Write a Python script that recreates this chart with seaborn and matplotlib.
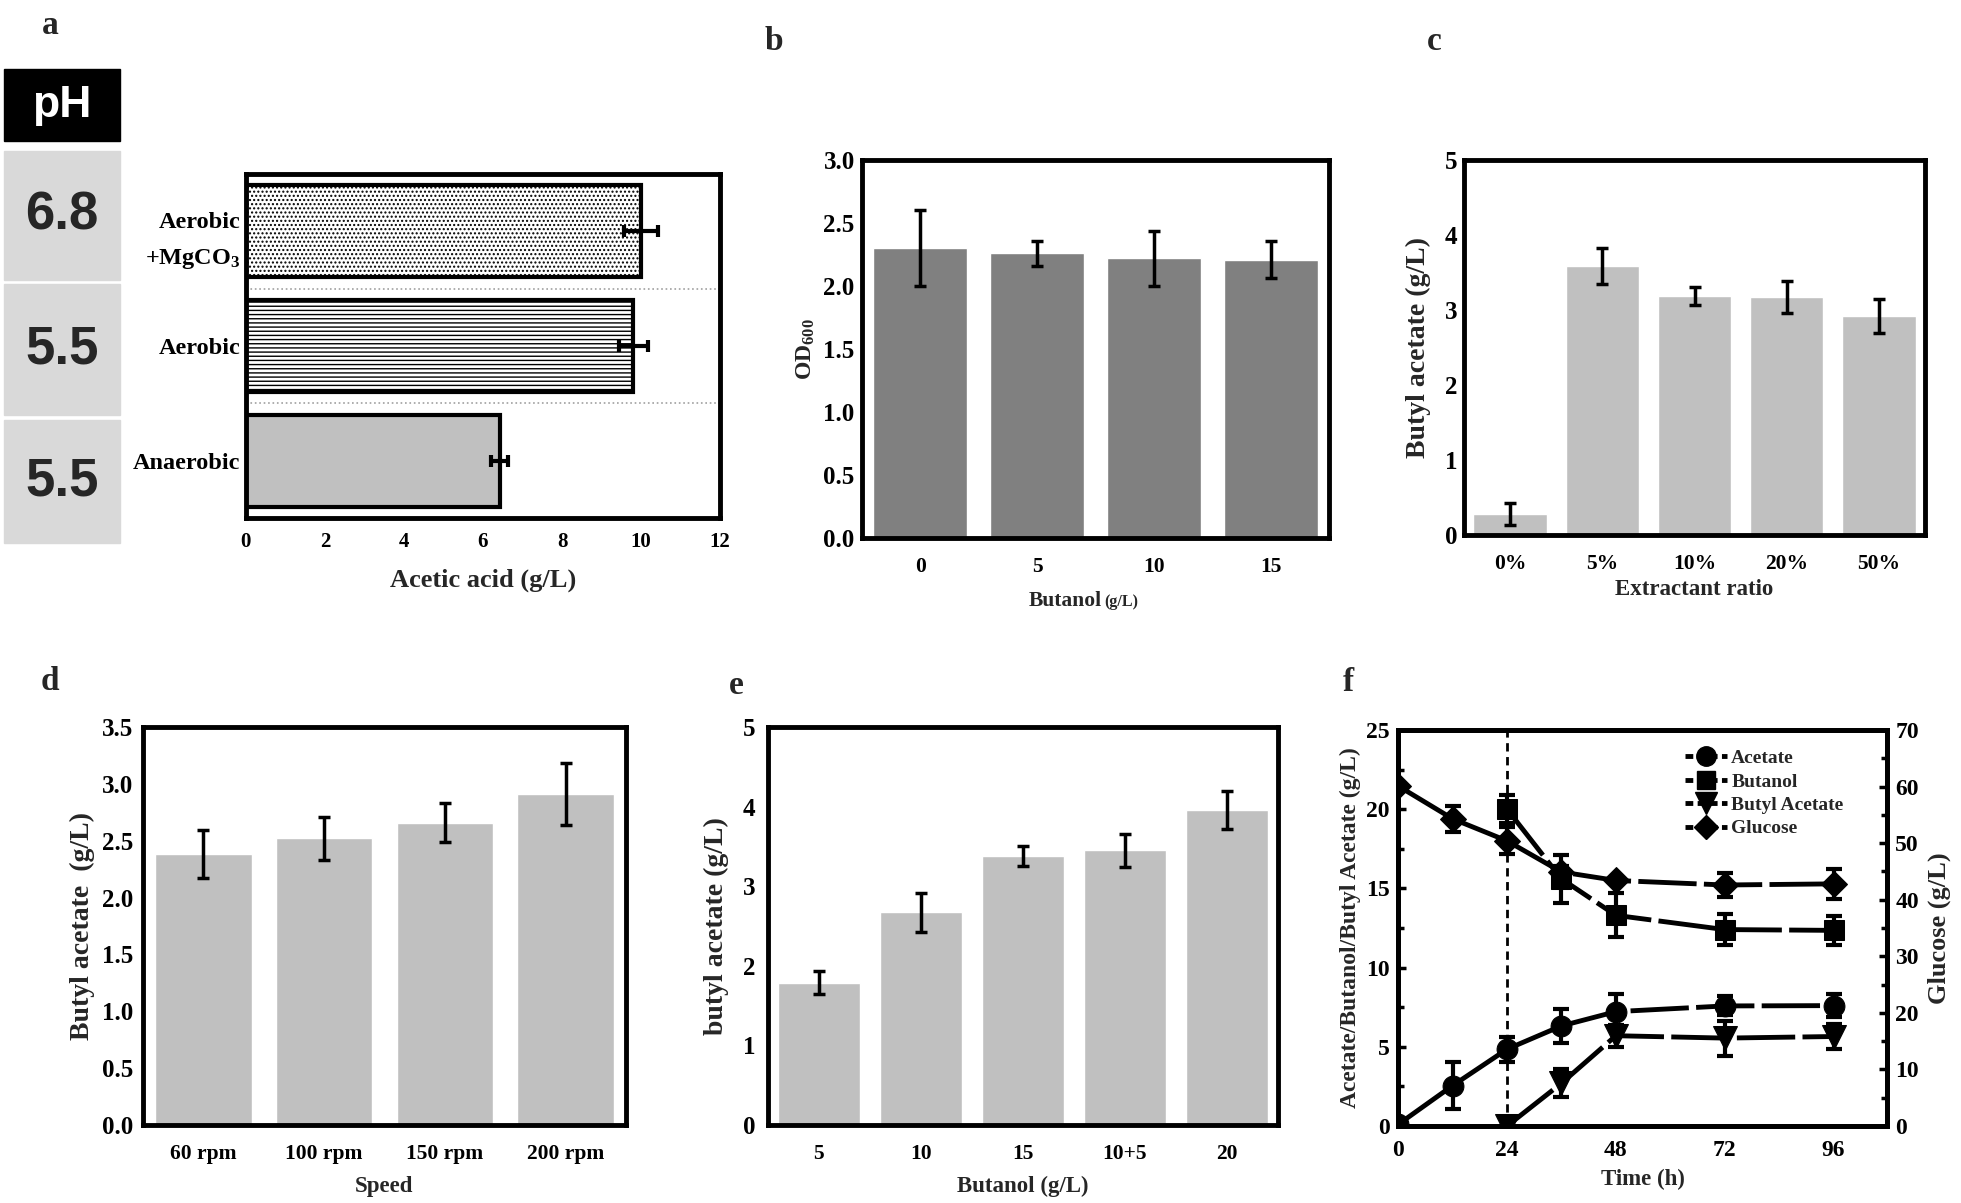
import numpy as np
import pandas as pd
import matplotlib
matplotlib.use("Agg")
import matplotlib.pyplot as plt
from matplotlib.patches import Rectangle
from matplotlib.lines import Line2D
from matplotlib.ticker import MultipleLocator, FixedLocator, FormatStrFormatter
import seaborn as sns

# ---- data ----
# a: acetic acid production under different conditions
a_conditions = ["Aerobic\n+MgCO$_\\mathrm{3}$", "Aerobic", "Anaerobic"]
a_ph = ["6.8", "5.5", "5.5"]
a_acetic = [10.0, 9.8, 6.42]
a_err = [0.42, 0.37, 0.22]

# b: OD600 vs butanol
b_butanol = ["0", "5", "10", "15"]
b_od = [2.30, 2.26, 2.22, 2.21]
b_err = [0.30, 0.10, 0.22, 0.15]

# c: butyl acetate vs extractant ratio
c_ratio = ["0%", "5%", "10%", "20%", "50%"]
c_ba = [0.28, 3.59, 3.18, 3.17, 2.92]
c_err = [0.15, 0.24, 0.12, 0.21, 0.23]

# d: butyl acetate vs shaking speed
d_speed = ["60 rpm", "100 rpm", "150 rpm", "200 rpm"]
d_ba = [2.38, 2.52, 2.66, 2.91]
d_err = [0.21, 0.19, 0.17, 0.27]

# e: butyl acetate vs butanol
e_butanol = ["5", "10", "15", "10+5", "20"]
e_ba = [1.79, 2.67, 3.38, 3.45, 3.96]
e_err = [0.15, 0.24, 0.12, 0.21, 0.24]

# f: time course
f_time = [0, 12, 24, 36, 48, 72, 96]
f_acetate = [0.1, 2.55, 4.85, 6.32, 7.22, 7.58, 7.6]
f_acetate_err = [0.0, 1.5, 0.8, 1.05, 1.1, 0.6, 0.75]
f_time_late = [24, 36, 48, 72, 96]
f_butanol = [20.0, 15.6, 13.3, 12.4, 12.35]
f_butanol_err = [0.9, 1.5, 1.4, 1.0, 0.9]
f_butyl = [0.0, 2.7, 5.7, 5.55, 5.65]
f_butyl_err = [0.0, 0.87, 0.7, 1.1, 0.8]
f_glucose = [60.1, 54.3, 50.4, 44.9, 43.4, 42.6, 42.8]
f_glucose_err = [0.0, 2.3, 2.4, 1.0, 0.5, 2.1, 2.6]

sns.set_style("white")
plt.rcParams.update({
    "font.family": ["Liberation Serif", "DejaVu Serif"],
    "font.weight": "bold",
    "axes.labelweight": "bold",
    "axes.edgecolor": "black",
    "xtick.color": "black",
    "ytick.color": "black",
    "mathtext.fontset": "custom",
    "mathtext.rm": "Liberation Serif:bold",
    "mathtext.bf": "Liberation Serif:bold",
    "mathtext.it": "Liberation Serif:bold",
    "hatch.linewidth": 1.0,
    "hatch.color": "black",
})

LIGHT = "#c0c0c0"
DARK = "#808080"


def style_ax(ax, labelsize=15.5):
    for s in ax.spines.values():
        s.set_linewidth(3.5)
        s.set_visible(True)
    ax.tick_params(which="major", direction="in", width=2.5, length=6,
                   labelsize=labelsize, pad=6)
    ax.tick_params(which="minor", direction="in", width=2.5, length=4)


def bar_panel(ax, cats, vals, errs, color, ymax, major, minor, ypad=6):
    df = pd.DataFrame({"cat": cats, "val": vals})
    sns.barplot(data=df, x="cat", y="val", color=color, saturation=1,
                width=0.8, errorbar=None, ax=ax)
    ax.errorbar(np.arange(len(cats)), vals, yerr=errs, fmt="none",
                ecolor="black", elinewidth=2.5, capsize=4, capthick=2.5)
    ax.set_xlim(-0.5, len(cats) - 0.5)
    ax.set_ylim(0, ymax)
    ax.yaxis.set_major_locator(MultipleLocator(major))
    ax.yaxis.set_minor_locator(MultipleLocator(minor))
    style_ax(ax)
    ax.tick_params(axis="y", labelsize=18, pad=ypad)
    ax.tick_params(axis="x", which="both", length=0, pad=14, labelsize=15.5)
    ax.set_xlabel("")
    ax.set_ylabel("")


fig = plt.figure(figsize=(19.61, 12.03), dpi=100)

# ---- panel a ----
axa = fig.add_axes([0.1254, 0.5694, 0.2418, 0.2860])
dfa = pd.DataFrame({"cond": a_conditions, "acid": a_acetic})
sns.barplot(data=dfa, x="acid", y="cond", orient="h", color=LIGHT,
            saturation=1, width=0.8, edgecolor="black", linewidth=3,
            errorbar=None, ax=axa)
for p, h in zip(axa.patches, ["....", "----", None]):
    if h:
        p.set_facecolor("white")
        p.set_hatch(h)
axa.errorbar(a_acetic, np.arange(len(a_acetic)), xerr=a_err, fmt="none",
             ecolor="black", elinewidth=3, capsize=4, capthick=3)
for yb in [0.5, 1.5]:
    axa.axhline(yb, color="#a0a0a0", ls=":", lw=1.2, zorder=0)
axa.set_xlim(0, 12)
axa.set_ylim(2.5, -0.5)
axa.xaxis.set_major_locator(MultipleLocator(2))
axa.xaxis.set_minor_locator(MultipleLocator(0.5))
axa.yaxis.set_minor_locator(FixedLocator([0.5, 1.5]))
style_ax(axa, labelsize=15)
axa.tick_params(axis="x", pad=10)
axa.tick_params(axis="y", which="major", length=0, labelsize=17.5, pad=4)
for lab in axa.get_yticklabels():
    lab.set_linespacing(1.8)
axa.set_ylabel("")
axa.set_xlabel("Acetic acid (g/L)", fontsize=19, labelpad=12)

# pH table
fig.add_artist(Rectangle((0.002, 0.8825), 0.059, 0.0603,
                         transform=fig.transFigure, color="black"))
fig.text(0.0315, 0.912, "pH", color="white", ha="center", va="center",
         fontsize=32, family="Liberation Sans", weight="bold")
cells = [(0.7672, 0.8742), (0.6549, 0.7640), (0.5489, 0.6507)]
for (y0, y1), ph in zip(cells, a_ph):
    fig.add_artist(Rectangle((0.002, y0), 0.059, y1 - y0,
                             transform=fig.transFigure, color="#d9d9d9"))
    fig.text(0.0315, (y0 + y1) / 2, ph, ha="center", va="center",
             fontsize=38, family="Liberation Sans", weight="bold")

# ---- panel b ----
axb = fig.add_axes([0.4394, 0.5528, 0.2385, 0.3142])
bar_panel(axb, b_butanol, b_od, b_err, DARK, 3.0, 0.5, 0.25, ypad=5)
axb.yaxis.set_major_formatter(FormatStrFormatter("%.1f"))
axb.set_ylabel("OD$_{\\mathrm{600}}$", fontsize=17, labelpad=5)
axb.text(0.513, -0.18, "Butanol", transform=axb.transAxes, ha="right",
         va="baseline", fontsize=15.5)
axb.text(0.518, -0.18, "(g/L)", transform=axb.transAxes, ha="left",
         va="baseline", fontsize=11.5)

# ---- panel c ----
axc = fig.add_axes([0.7467, 0.5553, 0.2348, 0.3117])
bar_panel(axc, c_ratio, c_ba, c_err, LIGHT, 5, 1, 0.5, ypad=5)
axc.set_ylabel("Butyl acetate (g/L)", fontsize=20, labelpad=10)
axc.set_xlabel("Extractant ratio", fontsize=16.5, labelpad=3)

# ---- panel d ----
axd = fig.add_axes([0.0729, 0.0648, 0.2463, 0.3309])
bar_panel(axd, d_speed, d_ba, d_err, LIGHT, 3.5, 0.5, 0.25, ypad=7)
axd.yaxis.set_major_formatter(FormatStrFormatter("%.1f"))
axd.set_ylabel("Butyl acetate  (g/L)", fontsize=20, labelpad=5)
axd.set_xlabel("Speed", fontsize=16.5, labelpad=8)

# ---- panel e ----
axe = fig.add_axes([0.3916, 0.0648, 0.2601, 0.3309])
bar_panel(axe, e_butanol, e_ba, e_err, LIGHT, 5, 1, 0.5, ypad=9)
axe.set_ylabel("butyl acetate (g/L)", fontsize=20, labelpad=10)
axe.set_xlabel("Butanol (g/L)", fontsize=16.5, labelpad=8)

# ---- panel f ----
axf = fig.add_axes([0.7130, 0.0640, 0.2493, 0.3292])
axg = axf.twinx()
dash = (0, (12, 1.5))
line_kw = dict(color="black", lw=3.5, linestyle=dash, markeredgecolor="black")
err_kw = dict(fmt="none", ecolor="black", elinewidth=3, capsize=6, capthick=3)

axf.axvline(24, color="black", lw=2, ls=(0, (3, 2)), zorder=1)
sns.lineplot(x=f_time, y=f_acetate, marker="o", markersize=15, ax=axf, **line_kw)
axf.errorbar(f_time, f_acetate, yerr=f_acetate_err, **err_kw)
sns.lineplot(x=f_time_late, y=f_butanol, marker="s", markersize=14, ax=axf, **line_kw)
axf.errorbar(f_time_late, f_butanol, yerr=f_butanol_err, **err_kw)
sns.lineplot(x=f_time_late, y=f_butyl, marker="v", markersize=17, ax=axf, **line_kw)
axf.errorbar(f_time_late, f_butyl, yerr=f_butyl_err, **err_kw)
sns.lineplot(x=f_time, y=f_glucose, marker="D", markersize=13, ax=axg, **line_kw)
axg.errorbar(f_time, f_glucose, yerr=f_glucose_err, **err_kw)

axf.set_xlim(0, 107.8)
axf.set_ylim(0, 25)
axg.set_ylim(0, 70)
axf.xaxis.set_major_locator(FixedLocator([0, 24, 48, 72, 96]))
axf.xaxis.set_minor_locator(MultipleLocator(12))
axf.yaxis.set_major_locator(MultipleLocator(5))
axf.yaxis.set_minor_locator(MultipleLocator(2.5))
axg.yaxis.set_major_locator(MultipleLocator(10))
axg.yaxis.set_minor_locator(MultipleLocator(5))
style_ax(axf, labelsize=17)
style_ax(axg, labelsize=17)
axf.tick_params(axis="x", pad=10)
axf.set_xlabel("Time (h)", fontsize=16.5, labelpad=6)
axf.set_ylabel("Acetate/Butanol/Butyl Acetate (g/L)", fontsize=17, labelpad=4)
axg.set_ylabel("Glucose (g/L)", fontsize=19, labelpad=6)

legend_style = dict(color="black", lw=3.5, linestyle=(0, (1.6, 0.9)))
handles = [Line2D([], [], marker=m, markersize=s, **legend_style)
           for m, s in [("o", 14), ("s", 13), ("v", 16), ("D", 12)]]
axg.legend(handles, ["Acetate", "Butanol", "Butyl Acetate", "Glucose"],
           loc="upper left", bbox_to_anchor=(0.55, 0.995), frameon=False,
           fontsize=14, handlelength=2.2, labelspacing=0.3, handletextpad=0.2)

# panel letters
for x, y, s in [(0.0255, 0.979, "a"), (0.3948, 0.9657, "b"), (0.7315, 0.9657, "c"),
                (0.0255, 0.4335, "d"), (0.3756, 0.4304, "e"), (0.6875, 0.4324, "f")]:
    fig.text(x, y, s, fontsize=24, weight="bold", ha="center", va="center")

fig.savefig("out.png", dpi=100)
